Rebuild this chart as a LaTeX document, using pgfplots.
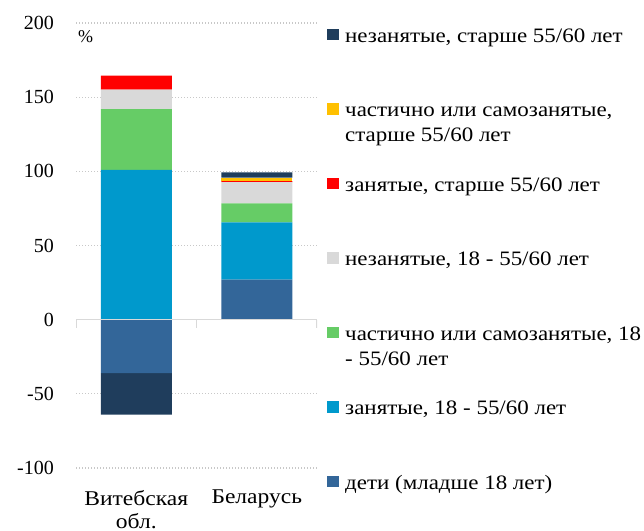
\documentclass[border=0pt]{standalone}
\usepackage{fontspec}
\setmainfont{Liberation Serif}
\newfontfamily\widefont{Liberation Serif}[FakeStretch=1.12]
\usepackage{pgfplots}
\pgfplotsset{compat=1.18}
\definecolor{cnavy}{HTML}{1F3D5C}
\definecolor{cyellow}{HTML}{FFC000}
\definecolor{cred}{HTML}{FF0000}
\definecolor{cgray}{HTML}{D9D9D9}
\definecolor{cgreen}{HTML}{66CC66}
\definecolor{cblue}{HTML}{0099CC}
\definecolor{csteel}{HTML}{336699}
\definecolor{gridc}{HTML}{C8C8C8}
\definecolor{zeroc}{HTML}{D9D9D9}
\pgfplotsset{mylegend/.style={legend image code/.code={%
  \path[fill=none, draw=none] (0pt,-59.5pt) rectangle (12pt,15pt);
  \fill[##1] (0pt,2pt) rectangle (12pt,13.5pt);}}}
\newcommand{\lentry}[1]{\parbox[t]{330pt}{\raggedright #1}}
\begin{document}
\begin{tikzpicture}
\begin{axis}[
 at={(76pt,62pt)}, anchor=south west,
 scale only axis, width=241pt, height=445pt,
 ybar stacked, bar width=71pt,
 xmin=-0.5, xmax=1.5, ymin=-100, ymax=200,
 xtick={0,1}, xticklabels={{Витебская\\обл.},{Беларусь}},
 ytick={-100,-50,...,200},
 axis line style={draw=none},
 major tick length=0pt,
 major tick style={draw=none},
 ymajorgrids, grid style={gridc, line width=1.2pt, dash pattern=on 1.4pt off 1.6pt},
 /pgf/number format/assume math mode=true,
 yticklabel style={font=\fontsize{20}{24}\selectfont, inner sep=0pt, xshift=-22pt},
 xticklabel style={font=\widefont\fontsize{21}{23}\selectfont, align=center, inner sep=0pt, yshift=-22pt},
 reverse legend,
 legend cell align=left,
 legend style={draw=none, fill=none, at={(1,1)}, anchor=north west, xshift=10pt, yshift=-4pt,
   inner sep=0pt, row sep=0pt, column sep=6pt, cells={anchor=base west}, nodes={inner sep=0pt},
   font=\widefont\fontsize{20.5}{25}\selectfont},
]
\draw[zeroc, line width=1.4pt] (axis cs:-0.5,0) -- (axis cs:1.5,0);
\draw[zeroc, line width=1.4pt] (axis cs:-0.5,0) -- ([yshift=-8pt]axis cs:-0.5,0);
\draw[zeroc, line width=1.4pt] (axis cs:0.5,0) -- ([yshift=-8pt]axis cs:0.5,0);
\draw[zeroc, line width=1.4pt] (axis cs:1.5,0) -- ([yshift=-8pt]axis cs:1.5,0);
\node[anchor=base west, font=\fontsize{18}{20}\selectfont, inner sep=0pt] at ([xshift=2pt]axis cs:-0.5,187) {\%};
\addplot[fill=csteel, draw=none, mylegend] coordinates {(0,-36) (1,27)};
\addlegendentry{\lentry{дети (младше 18 лет)}}
\addplot[fill=cblue, draw=none, mylegend] coordinates {(0,101) (1,38.6)};
\addlegendentry{\lentry{занятые, 18 - 55/60 лет}}
\addplot[fill=cgreen, draw=none, mylegend] coordinates {(0,41) (1,12.8)};
\addlegendentry{\lentry{частично или самозанятые, 18\\- 55/60 лет}}
\addplot[fill=cgray, draw=none, mylegend] coordinates {(0,13) (1,14.4)};
\addlegendentry{\lentry{незанятые, 18 - 55/60 лет}}
\addplot[fill=cred, draw=none, mylegend] coordinates {(0,9.5) (1,0.6)};
\addlegendentry{\lentry{занятые, старше 55/60 лет}}
\addplot[fill=cyellow, draw=none, mylegend] coordinates {(0,0) (1,2.3)};
\addlegendentry{\lentry{частично или самозанятые,\\старше 55/60 лет}}
\addplot[fill=cnavy, draw=none, mylegend] coordinates {(0,-28) (1,3.6)};
\addlegendentry{\lentry{незанятые, старше 55/60 лет}}
\end{axis}
\pgfresetboundingbox
\path[use as bounding box] (0,0) rectangle (644pt,530pt);
\end{tikzpicture}
\end{document}
